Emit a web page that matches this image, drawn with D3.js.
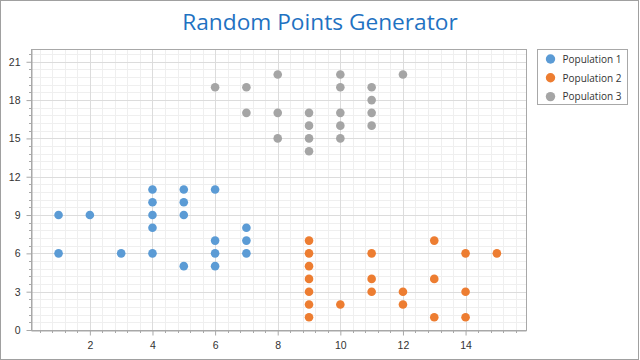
<!DOCTYPE html>
<html><head><meta charset="utf-8">
<script src="https://cdn.jsdelivr.net/npm/d3@7"></script>
<style>html,body{margin:0;padding:0;background:#fff}svg{display:block}</style>
</head><body>
<svg id="c" width="640" height="360"></svg>
<script>
const title = "Random Points Generator";
const seriesNames = ["Population 1", "Population 2", "Population 3"];
const seriesColors = ["#5b9bd5", "#ed7d31", "#a5a5a5"];
const pop1 = [[1,9],[1,6],[2,9],[3,6],[4,11],[4,10],[4,9],[4,8],[4,6],[5,11],[5,10],[5,9],[5,5],[6,11],[6,7],[6,6],[6,5],[7,8],[7,7],[7,6]];
const pop2 = [[9,7],[9,6],[9,5],[9,4],[9,3],[9,2],[9,1],[10,2],[11,6],[11,4],[11,3],[12,3],[12,2],[13,7],[13,4],[13,1],[14,6],[14,3],[14,1],[15,6]];
const pop3 = [[6,19],[7,19],[7,17],[8,20],[8,17],[8,15],[9,17],[9,16],[9,15],[9,14],[10,20],[10,19],[10,17],[10,16],[10,15],[11,19],[11,18],[11,17],[11,16],[12,20]];
const xTicks = [2,4,6,8,10,12,14];
const yTicks = [0,3,6,9,12,15,18,21];
const xDomain = [0.12, 15.93];
const yDomain = [0, 22];

const svg = d3.select("#c");
const L = 31, R = 526, T = 49, B = 330;
const x = d3.scaleLinear().domain(xDomain).range([L, R]);
const y = d3.scaleLinear().domain(yDomain).range([B, T]);

// outer border
svg.append("rect").attr("x",0.5).attr("y",0.5).attr("width",638).attr("height",359)
  .attr("fill","#fff").attr("stroke","#a0a0a0");

// title
svg.append("text").attr("x",320).attr("y",30).attr("text-anchor","middle")
  .attr("font-family","'Open Sans', sans-serif").attr("font-size",22.7)
  .attr("fill","#1f72c2").text(title);

const g = svg.append("g");
// minor grid
const xMinor = d3.range(0.4, 15.9, 0.4).filter(v => Math.abs(v/2 - Math.round(v/2)) > 1e-6);
const yMinor = d3.range(0.6, 22, 0.6).filter(v => Math.abs(v/3 - Math.round(v/3)) > 1e-6);
g.selectAll(".xm").data(xMinor).join("line")
  .attr("x1",d=>Math.round(x(d))+0.5).attr("x2",d=>Math.round(x(d))+0.5).attr("y1",T).attr("y2",B)
  .attr("stroke","#efefef");
g.selectAll(".ym").data(yMinor).join("line")
  .attr("y1",d=>Math.round(y(d))+0.5).attr("y2",d=>Math.round(y(d))+0.5).attr("x1",L).attr("x2",R)
  .attr("stroke","#efefef");
// major grid
g.selectAll(".xg").data(xTicks).join("line")
  .attr("x1",d=>Math.round(x(d))+0.5).attr("x2",d=>Math.round(x(d))+0.5).attr("y1",T).attr("y2",B)
  .attr("stroke","#dcdcdc");
g.selectAll(".yg").data(yTicks).join("line")
  .attr("y1",d=>Math.round(y(d))+0.5).attr("y2",d=>Math.round(y(d))+0.5).attr("x1",L).attr("x2",R)
  .attr("stroke","#dcdcdc");

// plot border
svg.append("rect").attr("x",L+0.5).attr("y",T+0.5).attr("width",R-L).attr("height",B-T)
  .attr("fill","none").attr("stroke","#a8a8a8");

// axes
const xAxis = svg.append("g").attr("transform",`translate(0,${B+0.5})`)
  .call(d3.axisBottom(x).tickValues(xTicks).tickSize(5).tickPadding(6).tickSizeOuter(0));
const yAxis = svg.append("g").attr("transform",`translate(${L+0.5},0)`)
  .call(d3.axisLeft(y).tickValues(yTicks).tickSize(5).tickPadding(6).tickSizeOuter(0));
[xAxis,yAxis].forEach(a=>{
  a.select(".domain").attr("stroke","#a8a8a8");
  a.selectAll(".tick line").attr("stroke","#a8a8a8");
  a.selectAll(".tick text").attr("fill","#333").attr("font-family","'Liberation Sans', Arial, sans-serif").attr("font-size",10.5);
});
// minor ticks
svg.append("g").selectAll("line").data(xMinor).join("line")
  .attr("x1",d=>Math.round(x(d))+0.5).attr("x2",d=>Math.round(x(d))+0.5).attr("y1",B).attr("y2",B+3)
  .attr("stroke","#a8a8a8");
svg.append("g").selectAll("line").data(yMinor).join("line")
  .attr("y1",d=>Math.round(y(d))+0.5).attr("y2",d=>Math.round(y(d))+0.5).attr("x1",L-2).attr("x2",L)
  .attr("stroke","#a8a8a8");

// points
const all = [pop1, pop2, pop3];
all.forEach((s,i)=>{
  svg.append("g").selectAll("circle").data(s).join("circle")
    .attr("cx",d=>x(d[0])).attr("cy",d=>y(d[1])).attr("r",4.3)
    .attr("fill",seriesColors[i]);
});

// legend
const lg = svg.append("g");
lg.append("rect").attr("x",537.5).attr("y",49.5).attr("width",90).attr("height",55)
  .attr("fill","#fff").attr("stroke","#a8a8a8");
seriesNames.forEach((n,i)=>{
  const cy = 59 + i*18.8;
  lg.append("circle").attr("cx",550.5).attr("cy",cy).attr("r",4.7).attr("fill",seriesColors[i]);
  lg.append("text").attr("x",562.5).attr("y",cy+3.8).attr("font-family","'Open Sans', sans-serif")
    .attr("font-size",10).attr("fill","#333").text(n);
});
</script>
</body></html>
